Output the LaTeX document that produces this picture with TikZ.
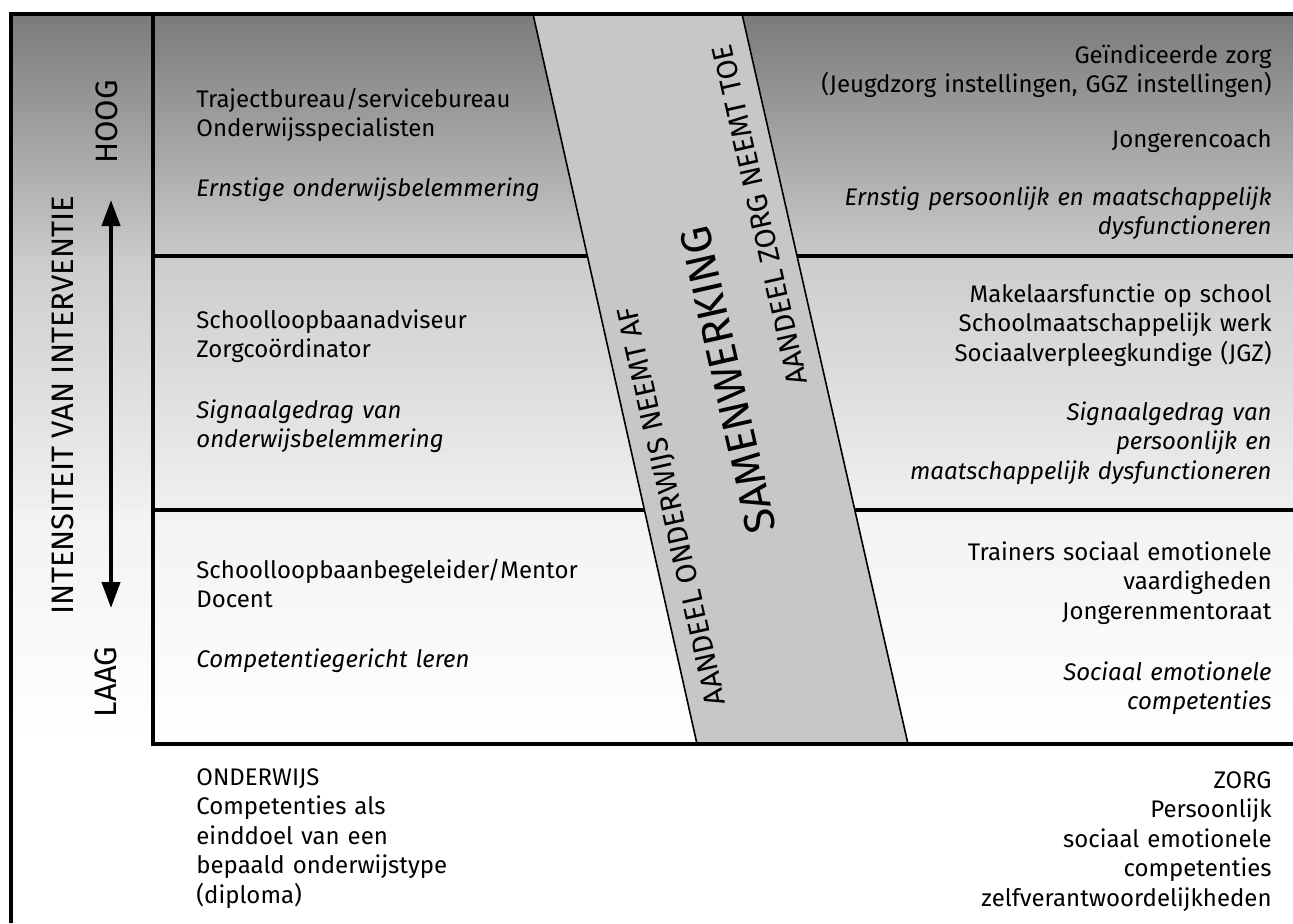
\documentclass[tikz,border=0pt]{standalone}
\usepackage{fontspec}
\setmainfont{Fira Sans}
\usetikzlibrary{arrows.meta}
\definecolor{bandgray}{RGB}{198,199,201}

\begin{document}
\begin{tikzpicture}[x=0.5pt,y=-0.5pt]
	\tikzstyle{every node}+=[inner sep=0pt]
	\tikzstyle{lefttxt}=[anchor=base west,align=left,text width=240pt,font={\fontsize{12}{14.75}\selectfont}]
	\tikzstyle{righttxt}=[anchor=base east,align=right,text width=260pt,font={\fontsize{12}{14.75}\selectfont}]
	\tikzstyle{captxt}=[font={\fontsize{15.5}{17}\selectfont}]
	\tikzstyle{bandtxt}=[font={\fontsize{14.5}{16}\selectfont}, rotate=102.7]
	\tikzstyle{frame}=[line width=2.4pt]
	\useasboundingbox (0,0) rectangle (1293,923);
	% background rows
	\shade [top color=black!52, middle color=black!33, bottom color=black!21] (11,14) rectangle (1293,256);
	\shade [top color=black!20, bottom color=black!6] (11,256) rectangle (1293,510);
	\shade [top color=black!5, bottom color=white] (11,510) rectangle (1293,744);
	\draw [frame] (153,256) -- (1293,256);
	\draw [frame] (153,510) -- (1293,510);
	% samenwerking band
	\draw [fill=bandgray, line width=0.8pt] (533,14) -- (742,14) -- (908,744) -- (697,744) -- cycle;
	\draw [frame] (153,14) -- (153,744) -- (1293,744);
	\draw [frame] (11,923) -- (11,14) -- (1293,14);
	% left axis
	\node [captxt, rotate=90] (intens) at (63,405) {INTENSITEIT VAN INTERVENTIE};
	\node [captxt, rotate=90] (hoog) at (107,122) {HOOG};
	\node [captxt, rotate=90] (laag) at (106,682) {LAAG};
	\coordinate (up) at (111,200);
	\coordinate (down) at (111,608);
	\draw [line width=2pt, {Triangle[width=9pt,length=13pt]}-{Triangle[width=9pt,length=13pt]}] (up) -- (down);
	% band texts
	\node [bandtxt] (afname) at (673,506) {AANDEEL ONDERWIJS NEEMT AF};
	\node [font={\fontsize{21.5}{23}\selectfont}, rotate=102.7] (samen) at (728,380) {SAMENWERKING};
	\node [bandtxt] (toename) at (760,215) {AANDEEL ZORG NEEMT TOE};
	% onderwijs side
	\node [lefttxt] (lt1) at (196,107) {Trajectbureau/servicebureau\\Onderwijsspecialisten};
	\node [lefttxt] (lt2) at (196,196) {\itshape Ernstige onderwijsbelemmering};
	\node [lefttxt] (lm1) at (196,328) {Schoolloopbaanadviseur\\Zorgcoördinator};
	\node [lefttxt] (lm2) at (196,418) {\itshape Signaalgedrag van\\onderwijsbelemmering};
	\node [lefttxt] (lb1) at (196,578) {Schoolloopbaanbegeleider/Mentor\\Docent};
	\node [lefttxt] (lb2) at (196,667) {\itshape Competentiegericht leren};
	\node [lefttxt] (onderwijs) at (196,785) {ONDERWIJS\\Competenties als\\einddoel van een\\bepaald onderwijstype\\(diploma)};
	% zorg side
	\node [righttxt] (rt1) at (1272,63) {Geïndiceerde zorg\\(Jeugdzorg instellingen, GGZ instellingen)};
	\node [righttxt] (rt2) at (1272,147) {Jongerencoach};
	\node [righttxt] (rt3) at (1272,205) {\itshape Ernstig persoonlijk en maatschappelijk\\dysfunctioneren};
	\node [righttxt] (rm1) at (1272,302) {Makelaarsfunctie op school\\Schoolmaatschappelijk werk\\Sociaalverpleegkundige (JGZ)};
	\node [righttxt] (rm2) at (1272,420) {\itshape Signaalgedrag van\\persoonlijk en\\maatschappelijk dysfunctioneren};
	\node [righttxt] (rb1) at (1272,560) {Trainers sociaal emotionele\\vaardigheden\\Jongerenmentoraat};
	\node [righttxt] (rb2) at (1272,680) {\itshape Sociaal emotionele\\competenties};
	\node [righttxt] (zorg) at (1272,788) {ZORG\\Persoonlijk\\sociaal emotionele\\competenties\\zelfverantwoordelijkheden};
\end{tikzpicture}
\end{document}
